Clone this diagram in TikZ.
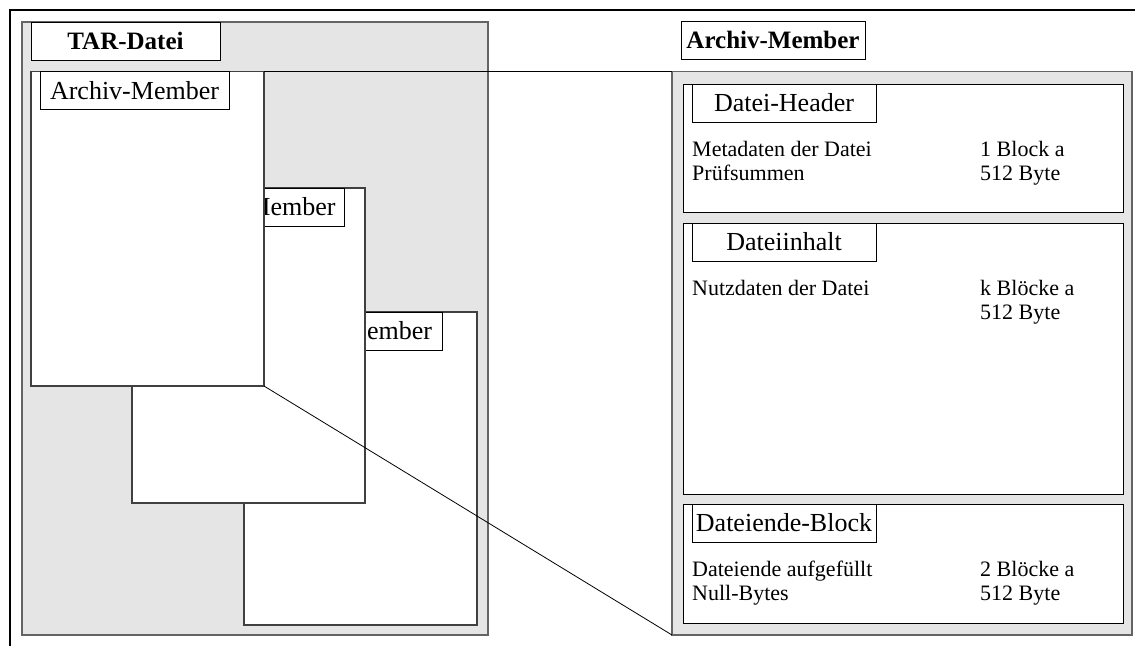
\documentclass[tikz,border=0pt]{standalone}
\usepackage{fontspec}
\setmainfont{Liberation Serif}
\definecolor{panelgray}{RGB}{229,229,229}
\definecolor{edgegray}{RGB}{100,100,100}
\begin{document}
\begin{tikzpicture}[x=1pt,y=-1pt,
  box/.style={draw=black, line width=0.9pt, fill=white, anchor=north west, inner sep=0pt, outer sep=0pt},
  panel/.style={draw=edgegray, line width=1.2pt, fill=panelgray, anchor=north west, inner sep=0pt, outer sep=0pt},
  member/.style={box, draw=black!75, line width=1.1pt, minimum width=233pt, minimum height=315pt},
  lbl/.style={draw=black, line width=0.8pt, fill=white, anchor=north west, inner sep=0pt, outer sep=0pt,
    minimum width=189pt, minimum height=38pt, font=\fontsize{26}{28}\selectfont},
  title/.style={lbl, font=\fontsize{25}{28}\selectfont\bfseries},
  info/.style={anchor=north west, inner sep=0pt, align=left, font=\fontsize{22}{24}\selectfont},
  link/.style={draw=black, line width=0.8pt}]
\useasboundingbox (0,0) rectangle (1135,646);

% outer frame
\draw[line width=2.6pt] (10,646) -- (10,10) -- (1135,10);

% TAR file with its stacked members
\node[panel, minimum width=466pt, minimum height=613pt] (tar) at (22,22) {};
\node[title] (tartitle) at (31,22) {TAR-Datei};

\node[member, minimum height=313pt] (m3) at (244,312) {};
\node[lbl] (m3lbl) at (253,312) {Archiv-Member};
\node[member] (m2) at (132,188) {};
\node[lbl, minimum width=186pt] (m2lbl) at (158,188) {Archiv-Member};
\node[member, minimum height=314.5pt] (m1) at (31,71.5) {};
\node[lbl] (m1lbl) at (40,71.5) {Archiv-Member};

% detailed view of one member
\node[title, minimum width=184pt] (amtitle) at (681,21) {Archiv-Member};
\node[panel, minimum width=460pt, minimum height=563.5pt] (am) at (672,71.5) {};

\draw[link] (m1.north east) -- (am.north west);
\draw[link] (m1.south east) -- (am.south west);

% file header
\node[box, minimum width=440pt, minimum height=128pt] (hdr) at (683,84) {};
\node[lbl, minimum width=184pt] (hdrlbl) at (692,84) {Datei-Header};
\node[info] (hdrtxt) at (692,141) {Metadaten der Datei\\Prüfsummen};
\node[info] (hdrsize) at (980,141) {1 Block a\\512 Byte};

% file content
\node[box, minimum width=440pt, minimum height=271pt] (body) at (683,223) {};
\node[lbl, minimum width=184pt] (bodylbl) at (692,223) {Dateiinhalt};
\node[info] (bodytxt) at (692,280) {Nutzdaten der Datei};
\node[info] (bodysize) at (980,280) {k Blöcke a\\512 Byte};

% end-of-file block
\node[box, minimum width=440pt, minimum height=119pt] (eof) at (683,504) {};
\node[lbl, minimum width=184pt] (eoflbl) at (692,504) {Dateiende-Block};
\node[info] (eoftxt) at (692,561) {Dateiende aufgefüllt\\Null-Bytes};
\node[info] (eofsize) at (980,561) {2 Blöcke a\\512 Byte};
\end{tikzpicture}
\end{document}
